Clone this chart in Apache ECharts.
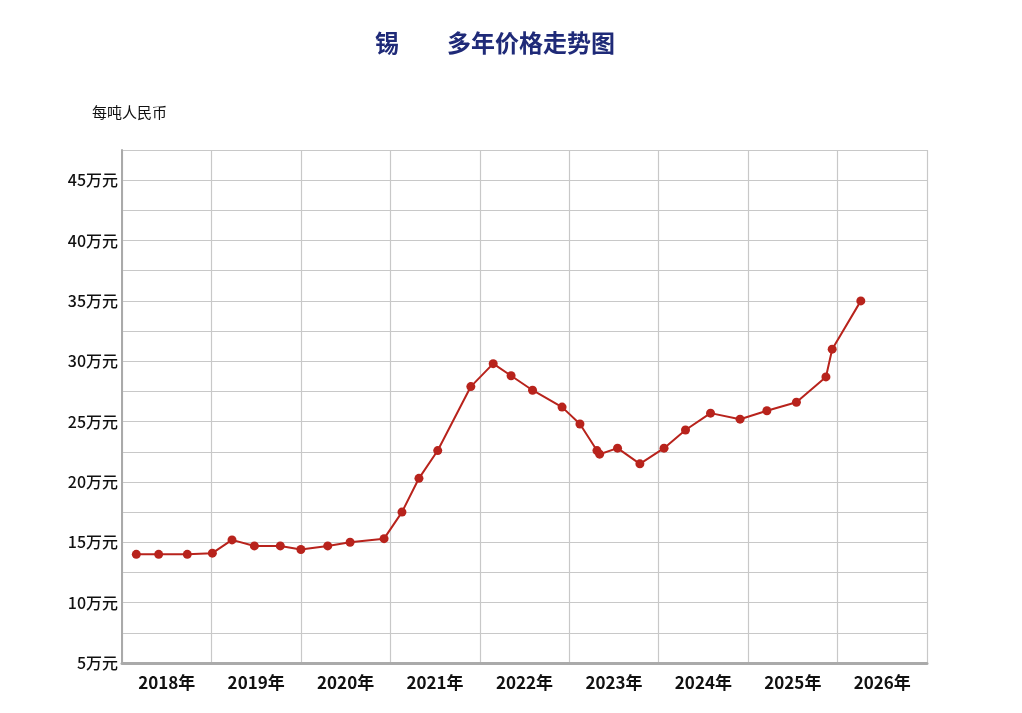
<!DOCTYPE html>
<html>
<head>
<meta charset="utf-8">
<script src="https://cdn.jsdelivr.net/npm/echarts@6/dist/echarts.min.js"></script>
<style>html,body{margin:0;background:#fff}#c{width:1022px;height:713px}</style>
</head>
<body>
<div id="c"></div>
<script>
const years = ['2018年', '2019年', '2020年', '2021年', '2022年', '2023年', '2024年', '2025年', '2026年'];
// x: years since start of 2018; y: 万元 per ton
const xVals = [0.16, 0.41, 0.73, 1.01, 1.23, 1.48, 1.77, 2.0, 2.30, 2.55, 2.93, 3.13, 3.32, 3.53, 3.90, 4.15, 4.35, 4.59, 4.92, 5.12, 5.31, 5.34, 5.54, 5.79, 6.06, 6.30, 6.58, 6.91, 7.21, 7.54, 7.87, 7.94, 8.26];
const prices = [14.0, 14.0, 14.0, 14.1, 15.2, 14.7, 14.7, 14.4, 14.7, 15.0, 15.3, 17.5, 20.3, 22.6, 27.9, 29.8, 28.8, 27.6, 26.2, 24.8, 22.6, 22.3, 22.8, 21.5, 22.8, 24.3, 25.7, 25.2, 25.9, 26.6, 28.7, 31.0, 35.0];

const chart = echarts.init(document.getElementById('c'));
const font = '"Noto Sans CJK SC", sans-serif';
chart.setOption({
  animation: false,
  title: {
    text: '锡　　多年价格走势图', left: 490, top: 26, textAlign: 'center',
    textStyle: { color: '#1f2a78', fontSize: 24, fontWeight: 'bold', fontFamily: font }
  },
  graphic: [{ type: 'text', left: 92, top: 105, style: { text: '每吨人民币', fontSize: 15, fill: '#111', fontFamily: font } }],
  grid: { left: 122, right: 95, top: 150, bottom: 50 },
  xAxis: [{
    type: 'value', min: 0, max: 9, interval: 1,
    axisLine: { show: false }, axisTick: { show: false }, axisLabel: { show: false },
    splitLine: { lineStyle: { color: '#c8c8c8', width: 1.2 } }
  }, {
    type: 'category', data: years, position: 'bottom', boundaryGap: true,
    axisLine: { lineStyle: { color: '#aaa', width: 3 } }, axisTick: { show: false },
    axisLabel: { color: '#111', fontSize: 17, fontWeight: 'bold', fontFamily: font, margin: 11 }
  }],
  yAxis: {
    type: 'value', min: 5, max: 47.5, interval: 2.5,
    axisLine: { show: true, lineStyle: { color: '#aaa', width: 2 } }, axisTick: { show: false },
    axisLabel: {
      color: '#111', fontSize: 16, fontWeight: 500, fontFamily: font, margin: 4,
      formatter: v => (v % 5 === 0 && v < 47.5) ? v + '万元' : ''
    },
    splitLine: { lineStyle: { color: '#c8c8c8', width: 1.2 } }
  },
  series: [{
    type: 'line', xAxisIndex: 0,
    data: xVals.map((x, i) => [x, prices[i]]),
    symbol: 'circle', symbolSize: 9,
    lineStyle: { color: '#b8231c', width: 2 },
    itemStyle: { color: '#b8231c' }
  }]
});
</script>
</body>
</html>
